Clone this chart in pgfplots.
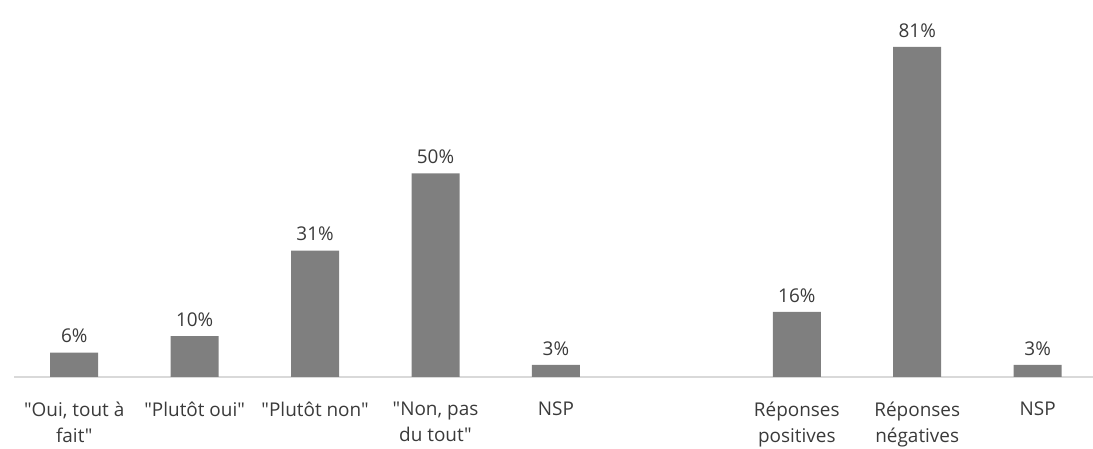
\documentclass[border=0pt]{standalone}
\usepackage{pgfplots}
\pgfplotsset{compat=1.18}
\usepackage{fontspec}
\setmainfont{Open Sans}[Ligatures=TeXOff]
\definecolor{bargray}{HTML}{7F7F7F}
\definecolor{axgray}{HTML}{D9D9D9}
\definecolor{txt}{HTML}{3A3A3A}
\begin{document}
\begin{tikzpicture}[x=1bp,y=1bp]
\path[use as bounding box] (0,0) rectangle (1093,449);
\begin{axis}[
  at={(14bp,72bp)}, anchor=south west,
  scale only axis,
  width=1079bp, height=366.7bp,
  xmin=-0.5, xmax=8.46, ymin=0, ymax=90,
  hide y axis,
  axis x line*=bottom,
  x axis line style={axgray, line width=1.3bp, -},
  major tick length=0pt,
  ybar, bar width=48bp,
  xtick={0,1,2,3,4,6,7,8},
  xticklabels={{"Oui, tout à\\fait"},{"Plutôt oui"},{"Plutôt non"},{"Non, pas\\du tout"},{NSP},{Réponses\\positives},{Réponses\\négatives},{NSP}},
  xticklabel style={align=center, font=\fontsize{19}{27}\selectfont, text=txt, yshift=-21bp, anchor=north, inner xsep=0pt},
  /pgf/number format/assume math mode=true,
  nodes near coords={\pgfmathprintnumber{\pgfplotspointmeta}\%},
  nodes near coords style={font=\fontsize{19}{22}\selectfont, text=txt, yshift=6bp},
  clip=false,
]
\addplot[fill=bargray, draw=none] coordinates {(0,6) (1,10) (2,31) (3,50) (4,3) (6,16) (7,81) (8,3)};
\end{axis}
\end{tikzpicture}
\end{document}
